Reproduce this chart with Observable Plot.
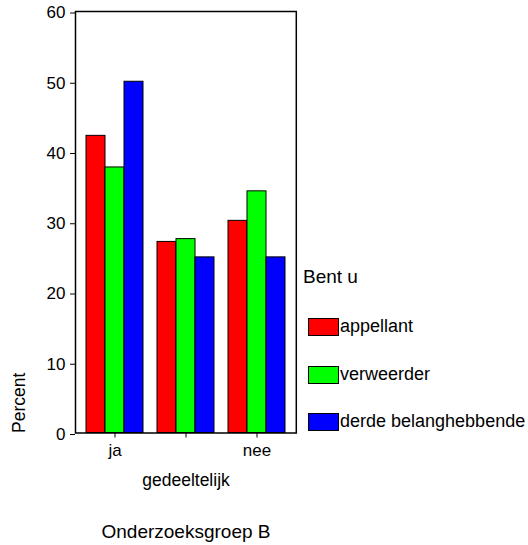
<!DOCTYPE html>
<html>
<head>
<meta charset="utf-8">
<script src="https://cdn.jsdelivr.net/npm/d3@7"></script>
<script src="https://cdn.jsdelivr.net/npm/@observablehq/plot@0.6"></script>
<style>
  body { margin: 0; background: #fff; }
  #wrap { position: relative; width: 528px; height: 545px; font-family: "Liberation Sans", Arial, sans-serif; color: #000; }
  #chart { position: absolute; left: 0; top: 0; }
  #legend { position: absolute; left: 0; top: 0; }
  .lg-title { position: absolute; left: 303px; top: 266px; font-size: 19px; line-height: 22px; white-space: nowrap; }
  .lg-item { position: absolute; left: 308px; height: 18px; white-space: nowrap; }
  .lg-sw { position: absolute; left: 0; top: 0; width: 29px; height: 16px; border: 1px solid #000; }
  .lg-lab { position: absolute; left: 32px; top: -3px; font-size: 18px; line-height: 22px; }
</style>
</head>
<body>
<div id="wrap"><div id="chart"></div><div id="legend"></div></div>
<script>
const categories = ["ja", "gedeeltelijk", "nee"];
const series = ["appellant", "verweerder", "derde belanghebbende"];
const appellant = [42.3, 27.2, 30.2];
const verweerder = [37.8, 27.6, 34.4];
const derde = [50.0, 25.0, 25.0];
const colors = ["#ff0000", "#00ff00", "#0000ff"];
const yTicks = [0, 10, 20, 30, 40, 50, 60];
const legendTitle = "Bent u";
const yLabel = "Percent";
const xTitle = "Onderzoeksgroep B";

const valuesBySeries = [appellant, verweerder, derde];
const data = [];
categories.forEach((c, i) => {
  series.forEach((s, j) => data.push({cat: c, series: s, value: valuesBySeries[j][i]}));
});

const chart = Plot.plot({
  width: 300,
  height: 545,
  marginLeft: 85,
  marginRight: 14.3,
  marginTop: 11,
  marginBottom: 112.5,
  style: {fontFamily: "'Liberation Sans', Arial, sans-serif", fontSize: "17px", color: "#000", background: "transparent", overflow: "visible"},
  fx: {domain: categories, paddingInner: 0.2, paddingOuter: 0, axis: null, label: null},
  x: {domain: series, padding: 0, axis: null},
  y: {domain: [0, 60], axis: null},
  color: {domain: series, range: colors},
  marks: [
    Plot.barY(data, {fx: "cat", x: "series", y: "value", fill: "series", stroke: "#000", strokeWidth: 1}),
    Plot.axisY({ticks: yTicks, tickSize: 5, tickPadding: 5, tickFormat: d => String(d), fontSize: 17, dx: -11, dy: 1.5, label: null}),
    Plot.axisFx({anchor: "bottom", tickSize: 5, tickPadding: 6, fontSize: 17,
      tickFormat: d => (d === categories[1] ? "" : d), label: null}),
    Plot.text(categories.filter((d, i) => i === 1), {fx: d => d, text: d => d, frameAnchor: "bottom", dy: 53, fontSize: 17.5}),
    Plot.text([xTitle], {text: d => d, frameAnchor: "bottom", dy: 104.5, fontSize: 19, facet: "super"}),
    Plot.text([yLabel], {text: d => d, frameAnchor: "bottom-left", rotate: -90, textAnchor: "start", lineAnchor: "middle", dx: -67.5, dy: 0, fontSize: 17.5, facet: "super"}),
    Plot.frame({facet: "super", stroke: "#000", strokeWidth: 1.5, insetLeft: -11, insetRight: -10.8})
  ]
});
document.getElementById("chart").appendChild(chart);

const legend = document.getElementById("legend");
const t = document.createElement("div");
t.className = "lg-title";
t.textContent = legendTitle;
legend.appendChild(t);
series.forEach((s, i) => {
  const item = document.createElement("div");
  item.className = "lg-item";
  item.style.top = (318 + i * 47.6) + "px";
  const sw = document.createElement("div");
  sw.className = "lg-sw";
  sw.style.background = colors[i];
  const lab = document.createElement("div");
  lab.className = "lg-lab";
  lab.textContent = s;
  item.appendChild(sw);
  item.appendChild(lab);
  legend.appendChild(item);
});
</script>
</body>
</html>
